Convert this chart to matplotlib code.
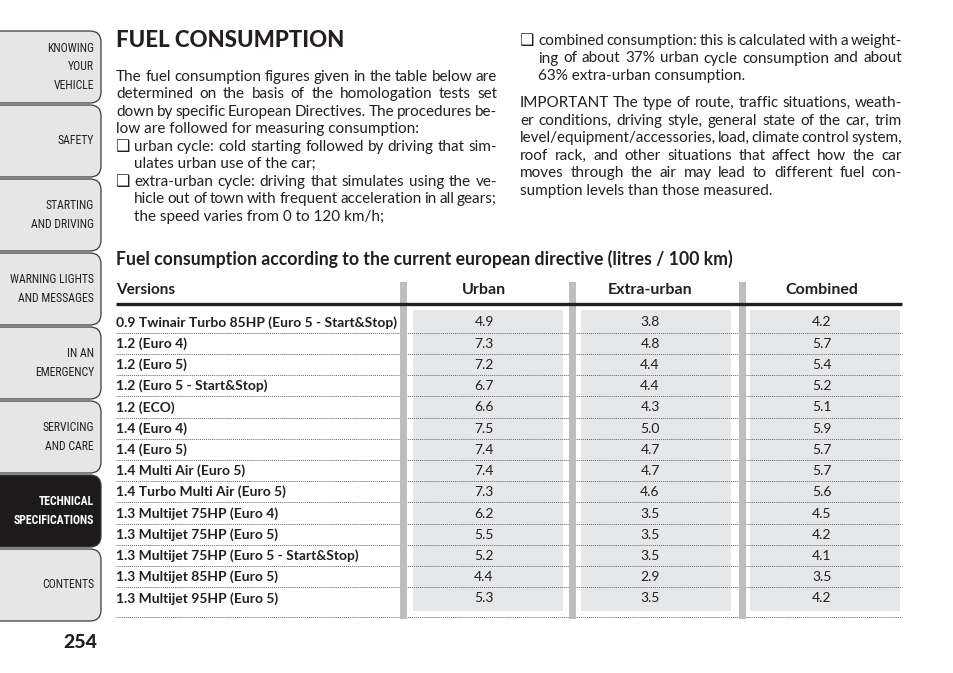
import matplotlib
matplotlib.use('Agg')
import matplotlib.pyplot as plt
from matplotlib import font_manager as fm
from matplotlib.patches import FancyBboxPatch, Rectangle

# ---- data -------------------------------------------------------------
versions = [
    '0.9 Twinair Turbo 85HP (Euro 5 - Start&Stop)',
    '1.2 (Euro 4)',
    '1.2 (Euro 5)',
    '1.2 (Euro 5 - Start&Stop)',
    '1.2 (ECO)',
    '1.4 (Euro 4)',
    '1.4 (Euro 5)',
    '1.4 Multi Air (Euro 5)',
    '1.4 Turbo Multi Air (Euro 5)',
    '1.3 Multijet 75HP (Euro 4)',
    '1.3 Multijet 75HP (Euro 5)',
    '1.3 Multijet 75HP (Euro 5 - Start&Stop)',
    '1.3 Multijet 85HP (Euro 5)',
    '1.3 Multijet 95HP (Euro 5)',
]
urban = [4.9, 7.3, 7.2, 6.7, 6.6, 7.5, 7.4, 7.4, 7.3, 6.2, 5.5, 5.2, 4.4, 5.3]
extra_urban = [3.8, 4.8, 4.4, 4.4, 4.3, 5.0, 4.7, 4.7, 4.6, 3.5, 3.5, 3.5, 2.9, 3.5]
combined = [4.2, 5.7, 5.4, 5.2, 5.1, 5.9, 5.7, 5.7, 5.6, 4.5, 4.2, 4.1, 3.5, 4.2]
columns = ['Urban', 'Extra-urban', 'Combined']

tabs = [
    ['KNOWING', 'YOUR', 'VEHICLE'],
    ['SAFETY'],
    ['STARTING', 'AND DRIVING'],
    ['WARNING LIGHTS', 'AND MESSAGES'],
    ['IN AN', 'EMERGENCY'],
    ['SERVICING', 'AND CARE'],
    ['TECHNICAL', 'SPECIFICATIONS'],
    ['CONTENTS'],
]
active_tab = 6

left_text = [
    ('The fuel consumption figures given in the table below are', 0, True),
    ('determined on the basis of the homologation tests set', 0, True),
    ('down by specific European Directives. The procedures be-', 0, True),
    ('low are followed for measuring consumption:', 0, False),
    ('urban cycle: cold starting followed by driving that sim-', 2, True),
    ('ulates urban use of the car;', 1, False),
    ('extra-urban cycle: driving that simulates using the ve-', 2, True),
    ('hicle out of town with frequent acceleration in all gears;', 1, True),
    ('the speed varies from 0 to 120 km/h;', 1, False),
]
right_text = [
    ('combined consumption: this is calculated with a weight-', 2, True),
    ('ing of about 37% urban cycle consumption and about', 1, True),
    ('63% extra-urban consumption.', 1, False),
    ('IMPORTANT The type of route, traffic situations, weath-', 0, True),
    ('er conditions, driving style, general state of the car, trim', 0, True),
    ('level/equipment/accessories, load, climate control system,', 0, True),
    ('roof rack, and other situations that affect how the car', 0, True),
    ('moves through the air may lead to different fuel con-', 0, True),
    ('sumption levels than those measured.', 0, False),
]

INK = '#231f20'
BODY = ['Lato', 'DejaVu Sans']

# the tab labels use a narrow face if one is installed
NARROW = dict(family=BODY)
narrow_names = ['Liberation Sans Narrow', 'Roboto Condensed',
                'Open Sans Condensed', 'DejaVu Sans Condensed',
                'Noto Sans Condensed']
squeezed = ('condensed', 'semi-condensed', 'extra-condensed',
            'ultra-condensed')
found = {}
for f in fm.fontManager.ttflist:
    if f.name in narrow_names or f.stretch in squeezed:
        found.setdefault(f.name, f.stretch)
for nm in narrow_names + sorted(found):
    if nm in found:
        NARROW = dict(family=[nm, 'DejaVu Sans'], stretch=found[nm])
        break

fig = plt.figure(figsize=(9.54, 6.73), dpi=100)
ax = fig.add_axes([0, 0, 1, 1])
ax.set_xlim(0, 954)
ax.set_ylim(673, 0)
ax.axis('off')
renderer = fig.canvas.get_renderer()


def width_of(s, **kw):
    t = ax.text(0, 0, s, **kw)
    w = t.get_window_extent(renderer).width
    t.remove()
    return w


def put_line(text, x0, x1, y, justify, **kw):
    if not justify:
        ax.text(x0, y, text, ha='left', va='baseline', **kw)
        return
    words = text.split(' ')
    widths = [width_of(w, **kw) for w in words]
    gap = (x1 - x0 - sum(widths)) / (len(words) - 1)
    x = x0
    for w, wd in zip(words, widths):
        ax.text(x, y, w, ha='left', va='baseline', **kw)
        x += wd + gap


def paragraph(lines, x0, x1, baselines):
    for (txt, kind, just), y in zip(lines, baselines):
        if kind == 2:
            ax.text(x0 - 1, y + 0.5, '\u2751', ha='left', va='baseline',
                    fontsize=11.5, family='DejaVu Sans', color=INK)
        xs = x0 + 18 if kind else x0
        put_line(txt, xs, x1, y, just, fontsize=11, family=BODY, color=INK)


# ---- side tabs --------------------------------------------------------
widest = max(width_of('WARNING LIGHTS', fontsize=10, **NARROW),
             width_of('SPECIFICATIONS', fontsize=10, weight='bold', **NARROW))
tab_fs = min(10, 10 * 84 / widest)

tab_top = 30
tab_h = 74
for i, lines in enumerate(tabs):
    y0 = tab_top + i * tab_h
    on = i == active_tab
    ax.add_patch(FancyBboxPatch((-30, y0 + 1), 131, tab_h - 2,
                                boxstyle='round,pad=0,rounding_size=11',
                                fc='#1c1a1b' if on else '#e6e6e6',
                                ec='#3a3a3a', lw=0.9))
    mid = y0 + tab_h / 2
    for k, s in enumerate(lines):
        yy = mid + (k - (len(lines) - 1) / 2) * 18.5
        ax.text(94, yy, s, ha='right', va='center', fontsize=tab_fs,
                color='white' if on else INK,
                weight='bold' if on else 'normal', **NARROW)

ax.text(97, 643, '254', ha='right', va='center', fontsize=14,
        weight='black', color=INK, family=BODY)

# ---- title and text ---------------------------------------------------
ax.text(116, 47, 'FUEL CONSUMPTION', ha='left', va='baseline', fontsize=16,
        weight='black', family=BODY, color=INK)
paragraph(left_text, 116, 497, [80.7 + 17.5 * i for i in range(9)])
paragraph(right_text, 520, 902,
          [45, 62.5, 80] + [107 + 17.6 * i for i in range(6)])

ax.text(116, 265, 'Fuel consumption according to the current european '
        'directive (litres / 100 km)', ha='left', va='baseline',
        fontsize=12.7, weight='bold', family=BODY, color=INK)

# ---- table ------------------------------------------------------------
col_x = [484, 650, 822]
cell_l = [413, 581, 750]
cell_w = 150
bar_x = [400, 569, 739]
row0 = 322
row_h = 21.23
n = len(versions)

for cx in cell_l:
    ax.add_patch(Rectangle((cx, 310), cell_w, 301, fc='#e6e7e8', ec='none',
                           zorder=1))
for bx in bar_x:
    ax.add_patch(Rectangle((bx, 282), 7, 337, fc='#bcbec0', ec='none',
                           zorder=4))

for i in range(n):
    y = row0 + i * row_h
    line_y = y + row_h / 2 if i < n - 1 else 617
    ax.plot([116, 902], [line_y, line_y], color='#666666', lw=0.7,
            ls=(0, (1, 1)), zorder=3)

ax.plot([116, 902], [303.5, 303.5], color=INK, lw=2.4, zorder=5,
        solid_capstyle='butt')

ax.text(116, 294, 'Versions', ha='left', va='baseline', fontsize=11,
        weight='bold', family=BODY, color=INK)
for cx, name in zip(col_x, columns):
    ax.text(cx, 294, name, ha='center', va='baseline', fontsize=11.5,
            weight='bold', family=BODY, color=INK)

for i, name in enumerate(versions):
    y = row0 + i * row_h + 4.5
    ax.text(116, y, name, ha='left', va='baseline', fontsize=10,
            weight='bold', family=BODY, color=INK, zorder=6)
    for cx, vals in zip(col_x, [urban, extra_urban, combined]):
        ax.text(cx, y, f'{vals[i]:.1f}', ha='center', va='baseline',
                fontsize=10, family=BODY, color=INK, zorder=6)

fig.savefig('out.png', dpi=100)
